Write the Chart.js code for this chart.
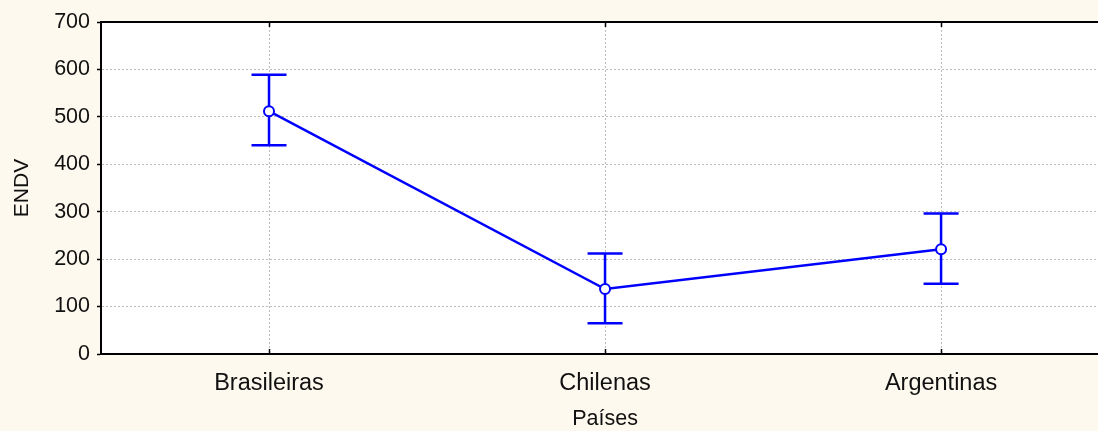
<!DOCTYPE html>
<html>
<head>
<meta charset="utf-8">
<script src="https://cdn.jsdelivr.net/npm/chart.js@4/dist/chart.umd.min.js"></script>
<style>
  html, body { margin: 0; padding: 0; background: #FEF9EE; }
  #wrap { width: 1098px; height: 431px; }
</style>
</head>
<body>
<div id="wrap"><canvas id="c" width="1098" height="431"></canvas></div>
<script>
// ---- data ----
const categories = ['Brasileiras', 'Chilenas', 'Argentinas'];
const means = [512, 137, 221];
const upper = [589, 212, 296];
const lower = [440, 65, 148];
const yTicks = [0, 100, 200, 300, 400, 500, 600, 700];
const xTitle = 'Países';
const yTitle = 'ENDV';

const FONT = "'Liberation Sans', Arial, sans-serif";
const BLUE = '#0000FF';

const points = categories.map((c, i) => ({ x: i, y: means[i] }));

const bgPlugin = {
  id: 'bg',
  beforeDraw(chart) {
    const { ctx, chartArea: a } = chart;
    ctx.save();
    ctx.fillStyle = '#FEF9EE';
    ctx.fillRect(0, 0, chart.width, chart.height);
    ctx.fillStyle = '#FFFFFF';
    ctx.fillRect(a.left, a.top, a.right - a.left, a.bottom - a.top);
    ctx.restore();
  }
};

const framePlugin = {
  id: 'frame',
  beforeDatasetsDraw(chart) {
    const { ctx, chartArea: a, scales } = chart;
    const xs = scales.x, ys = scales.y;
    ctx.save();
    // top border
    ctx.strokeStyle = '#000';
    ctx.lineWidth = 2;
    ctx.beginPath();
    ctx.moveTo(a.left - 1, a.top);
    ctx.lineTo(a.right, a.top);
    ctx.stroke();
    // inner ticks at categories (top and bottom)
    ctx.lineWidth = 1.5;
    categories.forEach((c, i) => {
      const x = Math.round(xs.getPixelForValue(i)) + 0.5;
      ctx.beginPath();
      ctx.moveTo(x, a.top);
      ctx.lineTo(x, a.top + 5);
      ctx.moveTo(x, a.bottom);
      ctx.lineTo(x, a.bottom - 5);
      ctx.stroke();
    });
    // error bars
    ctx.strokeStyle = BLUE;
    ctx.lineWidth = 2.5;
    const cap = 17.5;
    categories.forEach((c, i) => {
      const x = xs.getPixelForValue(i);
      const yU = ys.getPixelForValue(upper[i]);
      const yL = ys.getPixelForValue(lower[i]);
      ctx.beginPath();
      ctx.moveTo(x, yU);
      ctx.lineTo(x, yL);
      ctx.moveTo(x - cap, yU);
      ctx.lineTo(x + cap, yU);
      ctx.moveTo(x - cap, yL);
      ctx.lineTo(x + cap, yL);
      ctx.stroke();
    });
    ctx.restore();
  },
  afterDraw(chart) {
    const { ctx, scales } = chart;
    ctx.save();
    ctx.fillStyle = '#111';
    ctx.font = '21.5px ' + FONT;
    ctx.textAlign = 'center';
    ctx.textBaseline = 'middle';
    ctx.fillText(xTitle, scales.x.getPixelForValue(1), 419);
    ctx.restore();
  }
};

new Chart(document.getElementById('c'), {
  type: 'line',
  data: {
    datasets: [{
      data: points,
      borderColor: BLUE,
      borderWidth: 2.5,
      pointRadius: 5,
      pointBorderWidth: 2,
      pointBackgroundColor: '#FFFFFF',
      pointBorderColor: BLUE,
      pointHoverRadius: 5,
      tension: 0,
      fill: false
    }]
  },
  options: {
    responsive: false,
    animation: false,
    events: [],
    layout: { autoPadding: false, padding: { top: 22, right: 0, left: 0, bottom: 0 } },
    plugins: {
      legend: { display: false },
      tooltip: { enabled: false },
      title: { display: false }
    },
    scales: {
      x: {
        type: 'linear',
        min: -0.5,
        max: 2.467,
        afterBuildTicks(scale) { scale.ticks = categories.map((c, i) => ({ value: i })); },
        afterFit(scale) {
          scale.height = 77;
          scale.paddingLeft = 0;
          scale.paddingRight = 0;
        },
        ticks: {
          callback: (v) => categories[v] ?? '',
          font: { family: FONT, size: 23.5 },
          color: '#111',
          padding: 15,
          maxRotation: 0,
          autoSkip: false
        },
        grid: {
          color: '#BBBBBB',
          lineWidth: 1,
          drawTicks: false,
          tickLength: 0
        },
        border: { display: true, color: '#000', width: 2, dash: [2, 2] }
      },
      y: {
        type: 'linear',
        min: 0,
        max: 700,
        afterBuildTicks(scale) { scale.ticks = yTicks.map(v => ({ value: v })); },
        afterFit(scale) {
          scale.width = 101;
          scale.paddingTop = 0;
          scale.paddingBottom = 0;
        },
        ticks: {
          font: { family: FONT, size: 21.5 },
          color: '#111',
          padding: 7
        },
        grid: {
          color: '#BBBBBB',
          lineWidth: 1,
          drawTicks: true,
          tickLength: 4,
          tickColor: '#000',
          tickWidth: 1.5,
          tickBorderDash: []
        },
        border: { display: true, color: '#000', width: 2, dash: [2, 2] },
        title: {
          display: true,
          text: yTitle,
          font: { family: FONT, size: 21 },
          color: '#111',
          padding: { top: 10, bottom: 0 }
        }
      }
    }
  },
  plugins: [bgPlugin, framePlugin]
});
</script>
</body>
</html>
